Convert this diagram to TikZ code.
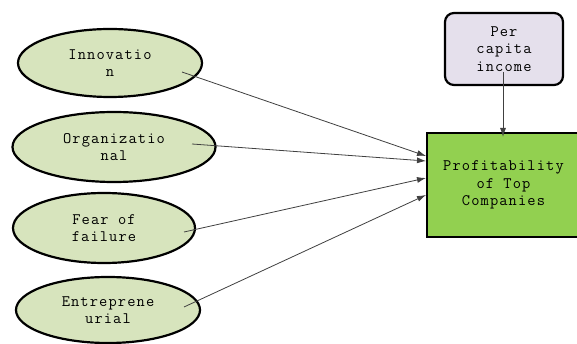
\documentclass[tikz,border=0pt]{standalone}
\usepackage{fontspec}
\setmonofont[LetterSpace=7]{Latin Modern Mono}
\usetikzlibrary{shapes.geometric,arrows.meta}
\definecolor{ellfill}{HTML}{D7E4BD}
\definecolor{purfill}{HTML}{E5E0EC}
\definecolor{grnfill}{HTML}{92D050}
\definecolor{arrcol}{HTML}{404040}
\tikzset{
  factor/.style={ellipse, draw=black, line width=2.2pt, fill=ellfill, inner sep=0pt,
    align=center, font=\ttfamily\fontsize{16}{17.5}\selectfont},
  boxstyle/.style={rectangle, draw=black, line width=2.2pt, inner sep=0pt,
    align=center, font=\ttfamily\fontsize{16}{17.5}\selectfont},
  conn/.style={draw=arrcol, line width=0.8pt, -{Latex[length=9pt,width=6pt]}}
}
\begin{document}
\begin{tikzpicture}[x=1pt,y=-1pt]
\useasboundingbox (0,0) rectangle (577,344);
\fill[white] (0,0) rectangle (577,344);
\node[factor, minimum width=184, minimum height=68] (innov) at (110,63) {Innovatio\\n};
\node[factor, minimum width=203, minimum height=70] (org) at (114,147) {Organizatio\\nal};
\node[factor, minimum width=182, minimum height=70] (fear) at (104,228) {Fear of\\failure};
\node[factor, minimum width=184, minimum height=66] (entr) at (108,310) {Entreprene\\urial};
\node[boxstyle, fill=purfill, rounded corners=9pt, minimum width=118, minimum height=72] (pci) at (504,49) {Per\\capita\\income};
\node[boxstyle, fill=grnfill, minimum width=153, minimum height=104] (prof) at (503.5,185) {Profitability\\of Top\\Companies};
\coordinate (s1) at (182,72);
\coordinate (s2) at (192,144);
\coordinate (s3) at (184,232);
\coordinate (s4) at (184,307);
\coordinate (s5) at (503,72);
\coordinate (e1) at (426,156);
\coordinate (e2) at (426,161);
\coordinate (e3) at (426,178);
\coordinate (e4) at (426,195);
\coordinate (e5) at (503,137);
\draw[conn] (s1) -- (e1);
\draw[conn] (s2) -- (e2);
\draw[conn] (s3) -- (e3);
\draw[conn] (s4) -- (e4);
\draw[conn] (s5) -- (e5);
\end{tikzpicture}
\end{document}
